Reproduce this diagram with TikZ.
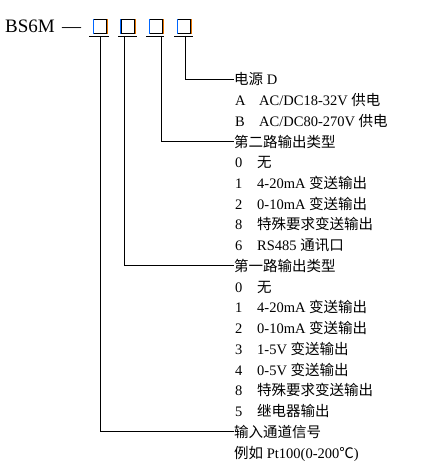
\documentclass[tikz,border=0pt]{standalone}
\usepackage{fontspec}
\setmainfont{Liberation Serif}
\newfontfamily\cjk{Noto Sans CJK SC}
\newcommand{\zh}[1]{{\cjk #1}}
\begin{document}
\begin{tikzpicture}[x=1bp,y=-1bp,
  font=\fontsize{14.5bp}{16bp}\selectfont,
  lbl/.style={anchor=base west, inner sep=0pt},
  sq/.style={draw=black, line width=0.8bp, minimum size=13.5bp, inner sep=0pt},
  uline/.style={line width=0.9bp},
  conn/.style={line width=0.8bp},
  bedge/.style={draw=blue!60!cyan, line width=0.7bp},
  oedge/.style={draw=orange!90!black, line width=0.7bp}]
\useasboundingbox[fill=white] (0,0) rectangle (445,476);

% title
\node[lbl, font=\fontsize{19bp}{21bp}\selectfont] (title) at (5,33) {BS6M};
\node[lbl, font=\fontsize{19bp}{21bp}\selectfont] (dash) at (62,33) {—};

% boxes
\node[sq] (b1) at (100,26.5) {};
\node[sq] (b2) at (127.7,26.5) {};
\node[sq] (b3) at (156,26.5) {};
\node[sq] (b4) at (184,26.5) {};
\foreach \b in {b1,b2,b3,b4}{
  \draw[bedge] (\b.north west) -- (\b.south west);
  \draw[oedge] (\b.north east) -- (\b.south east);
}
% underlines
\draw[uline] (89.3,36) -- (109.3,36);
\draw[uline] (118.3,36) -- (136.7,36);
\draw[uline] (146,36) -- (164,36);
\draw[uline] (174,36) -- (192.7,36);
\coordinate (u1) at (100.7,36);
\coordinate (u2) at (124.3,36);
\coordinate (u3) at (161,36);
\coordinate (u4) at (185,36);

% rows
\node[lbl] (t0) at (234,85) {\zh{电源} D};
\node[lbl] (c1) at (235,105.7) {A};
\node[lbl] (d1) at (259,105.7) {AC/DC18-32V \zh{供电}};
\node[lbl] (c2) at (235,126.4) {B};
\node[lbl] (d2) at (259,126.4) {AC/DC80-270V \zh{供电}};
\node[lbl] (t3) at (234,147.2) {\zh{第二路输出类型}};
\node[lbl] (c4) at (235,167.9) {0};
\node[lbl] (d4) at (257,167.9) {\zh{无}};
\node[lbl] (c5) at (235,188.6) {1};
\node[lbl] (d5) at (257,188.6) {4-20mA \zh{变送输出}};
\node[lbl] (c6) at (235,209.3) {2};
\node[lbl] (d6) at (257,209.3) {0-10mA \zh{变送输出}};
\node[lbl] (c7) at (235,230.0) {8};
\node[lbl] (d7) at (257,230.0) {\zh{特殊要求变送输出}};
\node[lbl] (c8) at (235,250.8) {6};
\node[lbl] (d8) at (257,250.8) {RS485 \zh{通讯口}};
\node[lbl] (t9) at (234,271.5) {\zh{第一路输出类型}};
\node[lbl] (c10) at (235,292.2) {0};
\node[lbl] (d10) at (257,292.2) {\zh{无}};
\node[lbl] (c11) at (235,312.9) {1};
\node[lbl] (d11) at (257,312.9) {4-20mA \zh{变送输出}};
\node[lbl] (c12) at (235,333.6) {2};
\node[lbl] (d12) at (257,333.6) {0-10mA \zh{变送输出}};
\node[lbl] (c13) at (235,354.4) {3};
\node[lbl] (d13) at (257,354.4) {1-5V \zh{变送输出}};
\node[lbl] (c14) at (235,375.1) {4};
\node[lbl] (d14) at (257,375.1) {0-5V \zh{变送输出}};
\node[lbl] (c15) at (235,395.8) {8};
\node[lbl] (d15) at (257,395.8) {\zh{特殊要求变送输出}};
\node[lbl] (c16) at (235,416.5) {5};
\node[lbl] (d16) at (257,416.5) {\zh{继电器输出}};
\node[lbl] (t17) at (234,437.2) {\zh{输入通道信号}};
\node[lbl] (t18) at (234,458.0) {\zh{例如} Pt100(0-200\zh{℃})};

% connectors
\draw[conn] (u4) |- ([yshift=6bp]t0.base west);
\draw[conn] (u3) |- ([yshift=6bp]t3.base west);
\draw[conn] (u2) |- ([yshift=6bp]t9.base west);
\draw[conn] (u1) |- ([yshift=6bp]t17.base west);
\end{tikzpicture}
\end{document}
